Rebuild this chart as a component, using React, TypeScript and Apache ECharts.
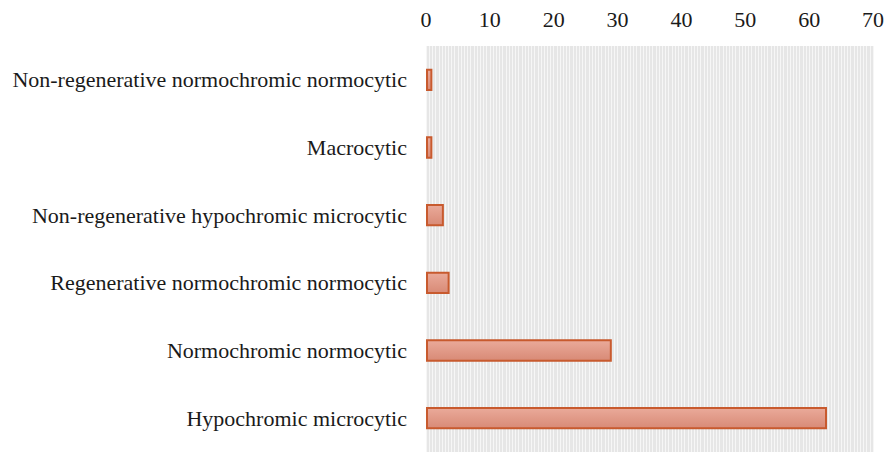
import React, { useEffect, useRef } from "react";
import * as echarts from "echarts";

const categories = [
  "Non-regenerative normochromic normocytic",
  "Macrocytic",
  "Non-regenerative hypochromic microcytic",
  "Regenerative normochromic normocytic",
  "Normochromic normocytic",
  "Hypochromic microcytic",
];
const values = [1.0, 1.0, 2.8, 3.7, 29.1, 62.8];
const xTicks = { min: 0, max: 70, interval: 10 };

export default function App() {
  const ref = useRef<HTMLDivElement>(null);
  useEffect(() => {
    if (!ref.current) return;
    const chart = echarts.init(ref.current, undefined, { renderer: "svg" });
    chart.setOption({
      animation: false,
      backgroundColor: "#ffffff",
      textStyle: { fontFamily: "Liberation Serif" },
      grid: {
        left: 426,
        right: 22,
        top: 46,
        bottom: 0,
        show: true,
        backgroundColor: "#e6e6e6",
        borderWidth: 0,
      },
      xAxis: {
        type: "value",
        position: "top",
        min: xTicks.min,
        max: xTicks.max,
        interval: xTicks.interval,
        axisLine: { show: false },
        axisTick: { show: false },
        splitLine: { show: true, lineStyle: { color: "#f6f6f6", width: 1 } },
        minorTick: { show: false, splitNumber: 20 },
        minorSplitLine: { show: true, lineStyle: { color: "#f6f6f6", width: 1 } },
        axisLabel: {
          color: "#1a1a1a",
          fontSize: 22,
          fontFamily: "Liberation Serif",
          margin: 16,
        },
      },
      yAxis: {
        type: "category",
        data: categories,
        inverse: true,
        axisLine: { show: false },
        axisTick: { show: false },
        axisLabel: {
          color: "#1a1a1a",
          fontSize: 22,
          fontFamily: "Liberation Serif",
          margin: 19,
        },
      },
      series: [
        {
          type: "bar",
          data: values,
          barCategoryGap: "67%",
          itemStyle: {
            color: new echarts.graphic.LinearGradient(0, 0, 0, 1, [
              { offset: 0, color: "#eaaa9a" },
              { offset: 1, color: "#d88a76" },
            ]),
            borderColor: "#c85a2e",
            borderWidth: 2,
          },
        },
      ],
    });
    return () => chart.dispose();
  }, []);
  return (
    <div
      ref={ref}
      style={{ position: "fixed", left: 0, top: 0, width: 895, height: 452 }}
    />
  );
}
